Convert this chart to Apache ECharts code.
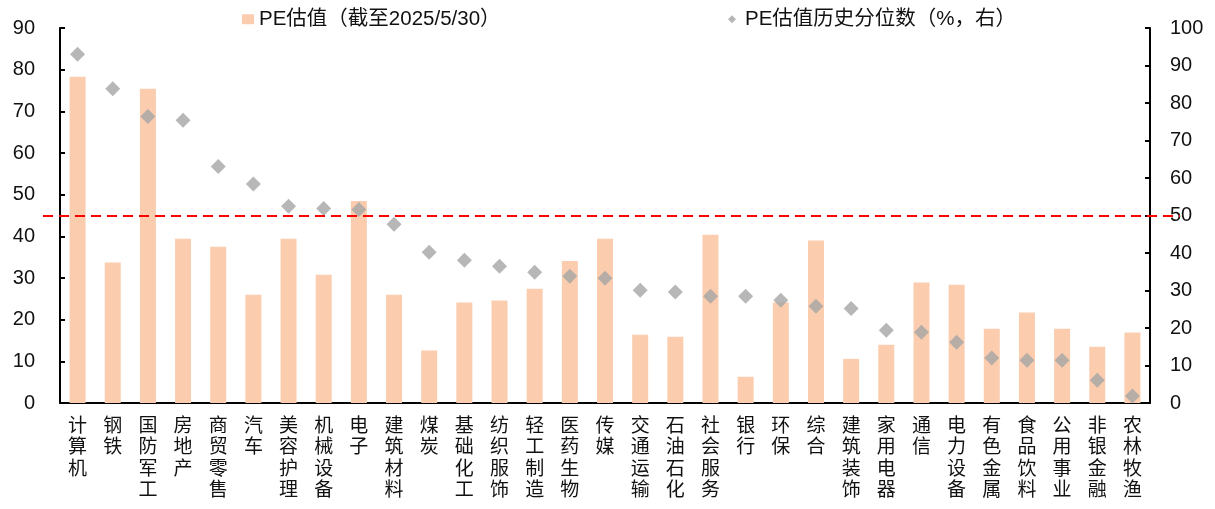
<!DOCTYPE html>
<html><head><meta charset="utf-8">
<script src="https://cdn.jsdelivr.net/npm/echarts@6/dist/echarts.min.js"></script>
<style>html,body{margin:0;padding:0;background:#fff}#c{width:1215px;height:509px}</style>
</head><body><div id="c"></div>
<script>
const categories = ['计算机','钢铁','国防军工','房地产','商贸零售','汽车','美容护理','机械设备','电子','建筑材料','煤炭','基础化工','纺织服饰','轻工制造','医药生物','传媒','交通运输','石油石化','社会服务','银行','环保','综合','建筑装饰','家用电器','通信','电力设备','有色金属','食品饮料','公用事业','非银金融','农林牧渔'];
const peValues = [78.3,33.7,75.4,39.4,37.5,26.0,39.4,30.8,48.5,26.0,12.6,24.1,24.6,27.4,34.1,39.4,16.4,15.9,40.4,6.3,24.1,39.0,10.6,14.0,28.9,28.4,17.8,21.7,17.8,13.5,16.9];
const pePercentile = [93.0,83.8,76.4,75.4,63.1,58.4,52.5,51.9,51.6,47.7,40.2,38.1,36.5,34.9,33.8,33.3,30.1,29.6,28.5,28.5,27.4,25.8,25.2,19.4,18.9,16.2,12.0,11.4,11.4,6.1,1.9];
const leftTicks = {min:0, max:90, interval:10};
const rightTicks = {min:0, max:100, interval:10};
const refLine = 50;
const nameBar = 'PE估值（截至2025/5/30）';
const nameDot = 'PE估值历史分位数（%，右）';

const FONT = '"Liberation Sans", Arial, "Noto Sans CJK SC", sans-serif';
const chart = echarts.init(document.getElementById('c'));
chart.setOption({
  animation:false,
  textStyle:{fontFamily:FONT},
  legend:[
    {data:[{name:nameBar, icon:'rect'}], left:242, top:9, itemWidth:12, itemHeight:10, padding:0,
     textStyle:{fontSize:20.5, color:'#111', fontFamily:FONT}},
    {data:[{name:nameDot, icon:'diamond'}], left:728, top:9, itemWidth:8, itemHeight:8, padding:0,
     textStyle:{fontSize:20.5, color:'#111', fontFamily:FONT, padding:[0,0,0,4]}}
  ],
  grid:{left:60, right:65, top:28, bottom:106},
  xAxis:{type:'category', data:categories,
    axisLine:{lineStyle:{color:'#000', width:2}},
    axisTick:{inside:true, length:5, lineStyle:{color:'#000', width:2}},
    axisLabel:{interval:0, fontSize:19, color:'#111', lineHeight:21.5, margin:13, verticalAlign:'top',
      formatter:v=>v.split('').join('\n')}
  },
  yAxis:[
    {type:'value', min:leftTicks.min, max:leftTicks.max, interval:leftTicks.interval,
     splitLine:{show:false},
     axisLine:{show:true, lineStyle:{color:'#000', width:2}},
     axisTick:{show:true, inside:true, length:5, lineStyle:{color:'#000', width:2}},
     axisLabel:{fontSize:20, color:'#111', margin:25}},
    {type:'value', min:rightTicks.min, max:rightTicks.max, interval:rightTicks.interval,
     splitLine:{show:false},
     axisLine:{show:true, lineStyle:{color:'#000', width:2}},
     axisTick:{show:true, inside:true, length:5, lineStyle:{color:'#000', width:2}},
     axisLabel:{fontSize:20, color:'#111', margin:20}}
  ],
  series:[
    {name:nameBar, type:'bar', data:peValues, barWidth:16, yAxisIndex:0,
     itemStyle:{color:'#FBCDAE'}},
    {name:nameDot, type:'scatter', data:pePercentile, yAxisIndex:1, symbol:'diamond', symbolSize:[15,15],
     itemStyle:{color:'#A5A5A5'}, z:3,
     markLine:{silent:true, symbol:'none', label:{show:false},
       lineStyle:{color:'#FF0000', type:[10,6], width:2},
       data:[[{x:43, yAxis:refLine}, {x:1180, yAxis:refLine}]]}}
  ]
});
</script></body></html>
